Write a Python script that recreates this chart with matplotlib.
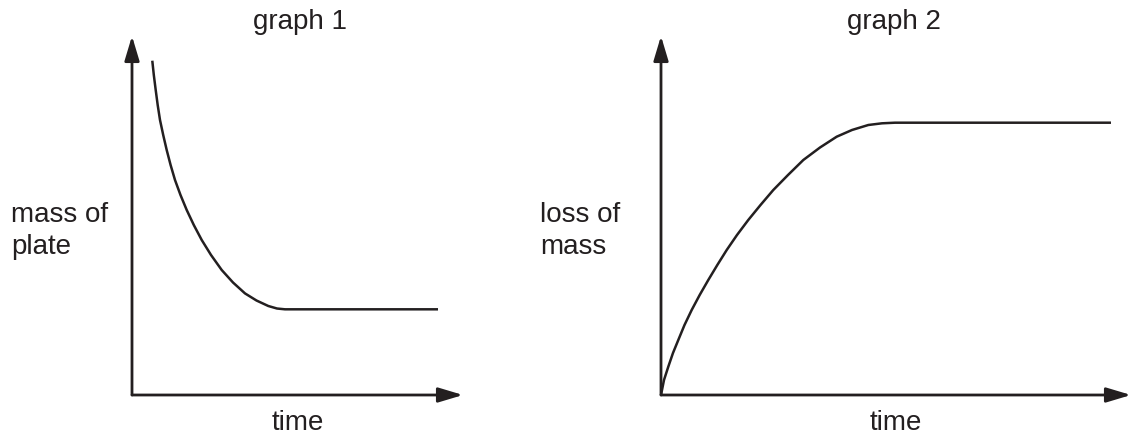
import numpy as np
import matplotlib
matplotlib.use('Agg')
import matplotlib.pyplot as plt
from matplotlib.patches import FancyArrowPatch

plt.rcParams['font.family'] = ['Liberation Sans', 'DejaVu Sans']

# graph 1: mass of plate against time (arbitrary units, axes run 0..10)
time1 = [0.613, 0.659, 0.716, 0.776, 0.846, 0.943, 1.048, 1.166, 1.299, 1.465, 1.653,
         1.867, 2.106, 2.387, 2.710, 3.051, 3.414, 3.761, 4.118, 4.381, 4.622, 5.227, 9.245]
mass1 = [9.312, 8.914, 8.496, 8.078, 7.660, 7.242, 6.825, 6.407, 5.989, 5.571, 5.153,
         4.735, 4.318, 3.900, 3.482, 3.134, 2.830, 2.632, 2.479, 2.409, 2.387, 2.387, 2.387]

# graph 2: loss of mass against time
time2 = [0.0, 0.064, 0.155, 0.255, 0.368, 0.500, 0.653, 0.823, 1.006, 1.198, 1.398, 1.617,
         1.857, 2.117, 2.389, 2.702, 3.028, 3.383, 3.738, 4.064, 4.411, 4.702, 4.979, 5.617, 9.574]
loss2 = [0.0, 0.418, 0.788, 1.170, 1.532, 1.950, 2.368, 2.786, 3.203, 3.621, 4.039, 4.457,
         4.875, 5.292, 5.710, 6.128, 6.546, 6.894, 7.195, 7.382, 7.521, 7.568, 7.585, 7.585, 7.585]

titles = ['graph 1', 'graph 2']
ylabels = [['mass of', 'plate'], ['loss of', 'mass']]
xlabel = 'time'

W, H = 1131, 437
ink = '#231f20'
fig = plt.figure(figsize=(W / 100, H / 100), dpi=100)


def panel(left, width, xs, ys, title, title_x, ylab, ylab_x):
    # origin of axes at pixel (left, 395), y arrow tip at 36
    ax = fig.add_axes([left / W, (H - 395) / H, width / W, 359 / H])
    ax.set_xlim(0, 10)
    ax.set_ylim(0, 10)
    ax.axis('off')
    for end in [(10, 0), (0, 10)]:
        arr = FancyArrowPatch((0, 0), end, arrowstyle='-|>,head_length=15,head_width=4.5',
                              mutation_scale=1, shrinkA=0, shrinkB=0, lw=2.0,
                              color=ink, clip_on=False)
        ax.add_patch(arr)
    ax.plot(xs, ys, color=ink, lw=1.8, solid_capstyle='butt', solid_joinstyle='round',
            clip_on=False)
    cx = (left + width / 2) / W
    fig.text(title_x / W, 1 - 29 / H, title, ha='center', va='baseline', fontsize=20, color=ink)
    fig.text(cx, 1 - 430 / H, xlabel, ha='center', va='baseline', fontsize=20, color=ink)
    for i, line in enumerate(ylab):
        fig.text(ylab_x / W, 1 - (222 + 32 * i) / H, line, ha='left', va='baseline',
                 fontsize=20, color=ink)


panel(132, 331, time1, mass1, titles[0], 300, ylabels[0], 11)
panel(661, 470, time2, loss2, titles[1], 894, ylabels[1], 540)

fig.savefig('out.png', dpi=100)
